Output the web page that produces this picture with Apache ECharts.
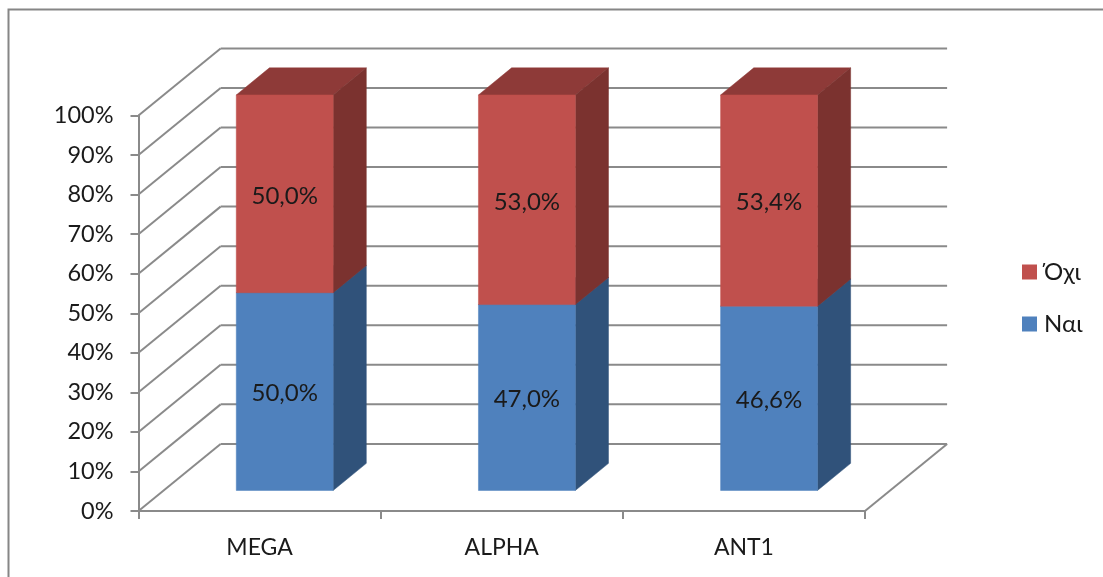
<!DOCTYPE html>
<html><head><meta charset="utf-8">
<style>html,body{margin:0;padding:0;background:#fff}#c{width:1103px;height:577px;filter:blur(0.5px)}</style>
<script src="https://cdn.jsdelivr.net/npm/echarts@6/dist/echarts.min.js"></script></head>
<body><div id="c"></div>
<script>
const categories = ['MEGA', 'ALPHA', 'ANT1'];
const nai = [50.0, 47.0, 46.6];
const oxi = [50.0, 53.0, 53.4];
const yTicks = [0, 10, 20, 30, 40, 50, 60, 70, 80, 90, 100];

const FONT = 'Lato, "Noto Sans", sans-serif';
const LINE = '#8a8a8a';
const depthX = 0.339, depthY = 0.277;   // wall depth as a share of a category band
const barFront = 0.306, barBack = 0.71; // bar position along the depth
const barWidth = 0.4;                   // bar width as a share of a category band

const chart = echarts.init(document.getElementById('c'), null, {renderer: 'canvas'});

function wallItem(params, api) {
  const band = api.size([1, 0])[0];
  const dx = band * depthX, dy = band * depthY;
  const p0 = api.coord([0, api.value(1)]);
  const pL = api.coord([categories.length - 1, api.value(1)]);
  const xL = p0[0] - band / 2, xR = pL[0] + band / 2, y = p0[1];
  const style = {stroke: LINE, lineWidth: 2, fill: null};
  const kids = [
    {type: 'line', shape: {x1: xL, y1: y, x2: xL + dx, y2: y - dy}, style},
    {type: 'line', shape: {x1: xL + dx, y1: y - dy, x2: xR + dx, y2: y - dy}, style}
  ];
  if (api.value(1) === 0) {
    kids.push({type: 'line', shape: {x1: xR, y1: y, x2: xR + dx, y2: y - dy}, style});
  }
  return {type: 'group', children: kids};
}

function barItem(colors) {
  return function (params, api) {
    const band = api.size([1, 0])[0];
    const w = band * barWidth;
    const low = api.coord([api.value(0), api.value(1)]);
    const high = api.coord([api.value(0), api.value(2)]);
    const fx = band * depthX * barFront, fy = band * depthY * barFront;
    const sx = band * depthX * (barBack - barFront), sy = band * depthY * (barBack - barFront);
    const x0 = low[0] - w / 2 + fx, x1 = x0 + w;
    const yb = low[1] - fy, yt = high[1] - fy;
    const poly = (pts, fill) => ({type: 'polygon', shape: {points: pts}, style: {fill, stroke: fill, lineWidth: 0.5}});
    return {type: 'group', children: [
      poly([[x0, yt], [x1, yt], [x1 + sx, yt - sy], [x0 + sx, yt - sy]], colors.top),
      poly([[x1, yb], [x1 + sx, yb - sy], [x1 + sx, yt - sy], [x1, yt]], colors.side),
      poly([[x0, yb], [x1, yb], [x1, yt], [x0, yt]], colors.front),
      {type: 'text', style: {
        text: (api.value(2) - api.value(1)).toFixed(1).replace('.', ',') + '%',
        x: (x0 + x1) / 2, y: (yb + yt) / 2 + 2,
        textAlign: 'center', textVerticalAlign: 'middle',
        font: '24px ' + FONT, fill: '#1a1a1a'
      }}
    ]};
  };
}

const naiData = nai.map((v, i) => [i, 0, v]);
const oxiData = oxi.map((v, i) => [i, nai[i], nai[i] + v]);

chart.setOption({
  animation: false,
  backgroundColor: '#fff',
  graphic: [{
    type: 'polyline', silent: true,
    shape: {points: [[8.5, 577], [8.5, 9.5], [1103, 9.5]]},
    style: {stroke: '#868686', lineWidth: 2, fill: null}
  }],
  grid: {left: 138.5, right: 238, top: 115.5, bottom: 66},
  legend: {
    data: ['Όχι', 'Ναι'], orient: 'vertical', left: 1017, top: 255,
    icon: 'rect', itemWidth: 15, itemHeight: 15, itemGap: 28,
    textStyle: {fontFamily: FONT, fontSize: 24, color: '#1a1a1a', padding: [0, 0, 0, 2]}
  },
  xAxis: {
    type: 'category', data: categories,
    axisLine: {show: true, lineStyle: {color: LINE, width: 2}},
    axisTick: {show: true, length: 8, lineStyle: {color: LINE, width: 2}},
    axisLabel: {margin: 25, fontFamily: FONT, fontSize: 23, color: '#1a1a1a'}
  },
  yAxis: {
    type: 'value', min: 0, max: 100, interval: 10,
    axisLine: {show: true, lineStyle: {color: LINE, width: 2}},
    axisTick: {show: true, length: 8, lineStyle: {color: LINE, width: 2}},
    splitLine: {show: false},
    axisLabel: {margin: 25, fontFamily: FONT, fontSize: 23.5, color: '#1a1a1a', formatter: '{value}%'}
  },
  series: [
    {type: 'custom', name: 'walls', silent: true, z: 1, renderItem: wallItem,
     data: yTicks.map(v => [0, v]), encode: {x: 0, y: 1}},
    {type: 'custom', name: 'Ναι', z: 2, renderItem: barItem({front: '#4F81BD', side: '#30527A', top: '#3A6391'}),
     itemStyle: {color: '#4F81BD'}, data: naiData, encode: {x: 0, y: [1, 2]}},
    {type: 'custom', name: 'Όχι', z: 3, renderItem: barItem({front: '#C0504D', side: '#7B322F', top: '#8E3A38'}),
     itemStyle: {color: '#C0504D'}, data: oxiData, encode: {x: 0, y: [1, 2]}}
  ]
});
</script></body></html>
